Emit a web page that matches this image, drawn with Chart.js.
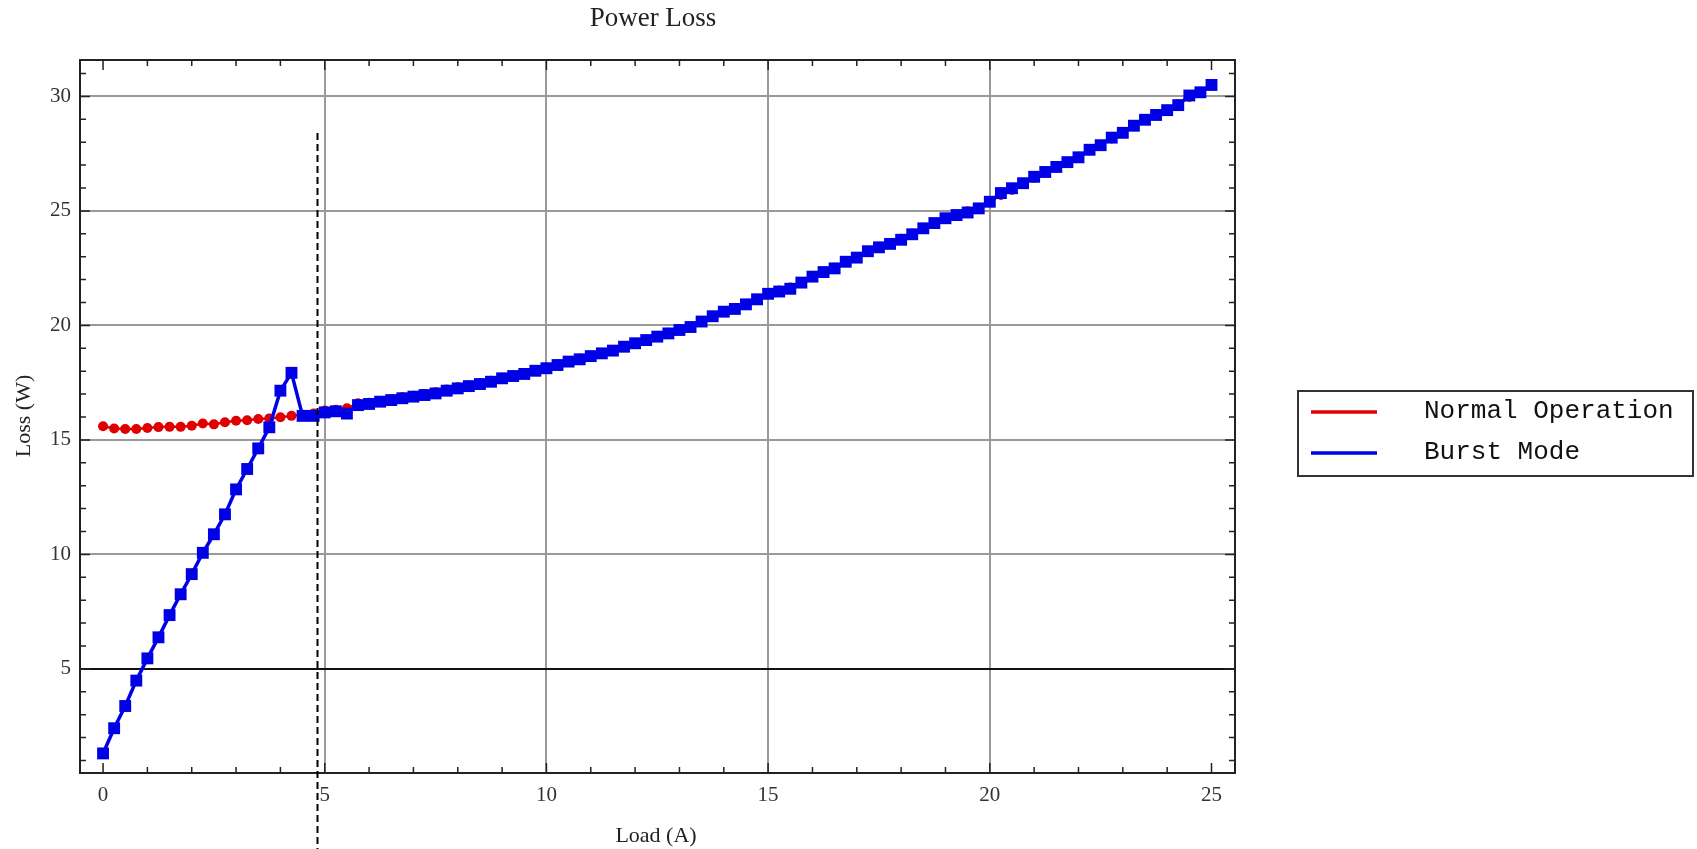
<!DOCTYPE html>
<html>
<head>
<meta charset="utf-8">
<title>Power Loss</title>
<script src="https://cdn.jsdelivr.net/npm/chart.js@4.4.1/dist/chart.umd.min.js"></script>
<style>
  html, body { margin: 0; padding: 0; background: #fff; }
  #wrap { width: 1697px; height: 849px; }
</style>
</head>
<body>
<div id="wrap"><canvas id="lossChart" width="1697" height="849"></canvas></div>
<script>
// load steps (A)
const loads = [
  0, 0.25, 0.5, 0.75, 1, 1.25, 1.5, 1.75, 2, 2.25, 2.5, 2.75, 3, 3.25, 3.5, 3.75, 4, 4.25,
  4.5, 4.75, 5, 5.25, 5.5, 5.75, 6, 6.25, 6.5, 6.75, 7, 7.25, 7.5, 7.75, 8, 8.25, 8.5, 8.75,
  9, 9.25, 9.5, 9.75, 10, 10.25, 10.5, 10.75, 11, 11.25, 11.5, 11.75, 12, 12.25, 12.5, 12.75,
  13, 13.25, 13.5, 13.75, 14, 14.25, 14.5, 14.75, 15, 15.25, 15.5, 15.75, 16, 16.25, 16.5, 16.75,
  17, 17.25, 17.5, 17.75, 18, 18.25, 18.5, 18.75, 19, 19.25, 19.5, 19.75, 20, 20.25, 20.5, 20.75,
  21, 21.25, 21.5, 21.75, 22, 22.25, 22.5, 22.75, 23, 23.25, 23.5, 23.75, 24, 24.25, 24.5, 24.75, 25
];

// Normal Operation loss (W)
const normalLoss = [
  15.6, 15.5, 15.48, 15.48, 15.52, 15.56, 15.57, 15.57, 15.62, 15.72, 15.68, 15.77, 15.84, 15.86, 15.91, 15.94, 15.99, 16.05,
  16.1, 16.15, 16.28, 16.32, 16.38, 16.6, 16.62, 16.7, 16.76, 16.86,
  16.93, 17.0, 17.08, 17.2, 17.3, 17.38, 17.48, 17.58, 17.72, 17.82,
  17.92, 18.05, 18.16, 18.3, 18.45, 18.55, 18.68, 18.8, 18.93, 19.1,
  19.24, 19.38, 19.54, 19.68, 19.82, 19.95, 20.18, 20.42, 20.62, 20.76,
  20.95, 21.16, 21.38, 21.52, 21.66, 21.88, 22.12, 22.34, 22.52, 22.76,
  22.98, 23.22, 23.42, 23.58, 23.78, 24.0, 24.22, 24.46, 24.66, 24.84,
  24.98, 25.12, 25.38, 25.7, 25.92, 26.18, 26.45, 26.68, 26.9, 27.12,
  27.36, 27.64, 27.88, 28.16, 28.42, 28.7, 28.96, 29.2, 29.42, 29.66,
  29.98, 30.2, 30.5
];

// Burst Mode loss (W)
const burstLoss = [
  1.31, 2.41, 3.38, 4.49, 5.46, 6.38, 7.35, 8.26, 9.14, 10.07, 10.88, 11.75, 12.84, 13.73, 14.63, 15.55, 17.15, 17.93,
  16.05, 16.05, 16.2, 16.25, 16.15, 16.52, 16.57, 16.67, 16.74, 16.82,
  16.89, 16.96, 17.03, 17.15, 17.25, 17.35, 17.44, 17.54, 17.69, 17.79,
  17.88, 18.02, 18.13, 18.27, 18.42, 18.52, 18.66, 18.78, 18.9, 19.07,
  19.22, 19.36, 19.51, 19.65, 19.8, 19.93, 20.17, 20.4, 20.6, 20.72,
  20.92, 21.14, 21.38, 21.48, 21.6, 21.87, 22.13, 22.33, 22.49, 22.78,
  22.96, 23.24, 23.41, 23.56, 23.74, 23.98, 24.24, 24.47, 24.68, 24.82,
  24.93, 25.11, 25.4, 25.78, 25.99, 26.21, 26.49, 26.7, 26.92, 27.13,
  27.34, 27.67, 27.87, 28.2, 28.41, 28.72, 28.98, 29.19, 29.4, 29.62,
  30.04, 30.18, 30.5
];

const seriesNames = ["Normal Operation", "Burst Mode"];
const seriesColors = ["#e00000", "#0000e6"];

// dashed marker line (load where burst mode ends)
const markerLoad = 4.83;
const markerTop = 28.4;

const toPoints = vals => vals.map((v, i) => ({ x: loads[i], y: v }));

// === FRAME, TICKS, TITLES, LEGEND ===
const framePlugin = {
  id: "framePlugin",
  afterDraw(chart) {
    const { ctx, chartArea: a, scales: { x, y } } = chart;
    ctx.save();

    // inward ticks on all four sides
    ctx.strokeStyle = "#222";
    ctx.lineWidth = 1.5;
    ctx.beginPath();
    for (let v = 0; v <= 25; v++) {
      const px = x.getPixelForValue(v);
      const len = v % 5 === 0 ? 10 : 6;
      ctx.moveTo(px, a.bottom); ctx.lineTo(px, a.bottom - len);
      ctx.moveTo(px, a.top); ctx.lineTo(px, a.top + len);
    }
    for (let v = 1; v <= 31; v++) {
      const py = y.getPixelForValue(v);
      const len = v % 5 === 0 ? 10 : 6;
      ctx.moveTo(a.left, py); ctx.lineTo(a.left + len, py);
      ctx.moveTo(a.right, py); ctx.lineTo(a.right - len, py);
    }
    ctx.stroke();

    // frame
    ctx.lineWidth = 2;
    ctx.strokeRect(a.left, a.top, a.right - a.left, a.bottom - a.top);

    // dashed vertical line, running past the bottom of the plot
    ctx.setLineDash([7, 4]);
    ctx.lineWidth = 2;
    ctx.strokeStyle = "#000";
    ctx.beginPath();
    const mx = Math.round(x.getPixelForValue(markerLoad)) + 0.5;
    ctx.moveTo(mx, y.getPixelForValue(markerTop));
    ctx.lineTo(mx, chart.height);
    ctx.stroke();
    ctx.setLineDash([]);

    // titles
    ctx.fillStyle = "#222";
    ctx.textAlign = "center";
    ctx.textBaseline = "middle";
    ctx.font = "27px 'Liberation Serif', serif";
    ctx.fillText("Power Loss", 653, 19);
    ctx.font = "22px 'Liberation Serif', serif";
    ctx.fillText("Load (A)", 656, 836);
    ctx.save();
    ctx.translate(24, 416);
    ctx.rotate(-Math.PI / 2);
    ctx.fillText("Loss (W)", 0, 0);
    ctx.restore();

    // legend
    ctx.lineWidth = 2;
    ctx.strokeStyle = "#333";
    ctx.strokeRect(1298, 391, 395, 85);
    ctx.font = "26px 'Liberation Mono', 'Courier New', monospace";
    ctx.textAlign = "left";
    chart.data.datasets.forEach((ds, i) => {
      const ly = 412 + i * 41;
      ctx.strokeStyle = ds.borderColor;
      ctx.lineWidth = 3.5;
      ctx.beginPath();
      ctx.moveTo(1311, ly);
      ctx.lineTo(1377, ly);
      ctx.stroke();
      ctx.fillStyle = "#111";
      ctx.fillText(ds.label, 1424, ly - 1);
    });

    ctx.restore();
  }
};

const ctx = document.getElementById("lossChart").getContext("2d");
new Chart(ctx, {
  type: "line",
  data: {
    datasets: [
      {
        label: seriesNames[0],
        data: toPoints(normalLoss),
        borderColor: seriesColors[0],
        backgroundColor: seriesColors[0],
        borderWidth: 2.5,
        pointStyle: "circle",
        pointRadius: 5,
        pointBorderWidth: 0,
        order: 2
      },
      {
        label: seriesNames[1],
        data: toPoints(burstLoss),
        borderColor: seriesColors[1],
        backgroundColor: seriesColors[1],
        borderWidth: 3.5,
        pointStyle: "rect",
        pointRadius: 8.4,
        pointBorderWidth: 0,
        order: 1
      }
    ]
  },
  options: {
    responsive: false,
    animation: false,
    events: [],
    layout: { padding: { top: 60, right: 462, left: 0, bottom: 0 } },
    plugins: {
      legend: { display: false },
      tooltip: { enabled: false },
      title: { display: false }
    },
    scales: {
      x: {
        type: "linear",
        min: -0.52,
        max: 25.53,
        afterFit: s => { s.height = 76; },
        border: { display: false },
        grid: {
          drawTicks: false,
          lineWidth: 2,
          color: c => (c.tick && (c.tick.value === 0 || c.tick.value === 25)) ? "rgba(0,0,0,0)" : "#9a9a9a"
        },
        ticks: {
          stepSize: 5,
          includeBounds: false,
          autoSkip: false,
          maxRotation: 0,
          padding: 10,
          color: "#333",
          font: { family: "'Liberation Serif', serif", size: 21 }
        }
      },
      y: {
        min: 0.455,
        max: 31.59,
        afterFit: s => { s.width = 80; },
        border: { display: false },
        grid: {
          drawTicks: false,
          lineWidth: 2,
          color: c => (c.tick && c.tick.value === 5) ? "#111" : "#9a9a9a"
        },
        ticks: {
          stepSize: 5,
          includeBounds: false,
          padding: 9,
          color: "#333",
          font: { family: "'Liberation Serif', serif", size: 21 }
        }
      }
    }
  },
  plugins: [framePlugin]
});
</script>
</body>
</html>
